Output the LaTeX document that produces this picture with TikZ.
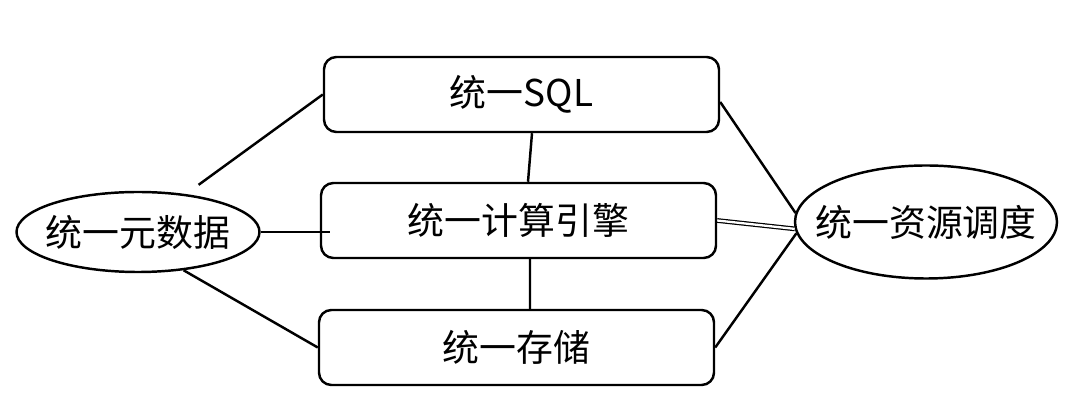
\documentclass[tikz,border=0pt]{standalone}
\usepackage{fontspec}
\setmainfont{Noto Sans CJK SC}
\usepackage{tikz}
\usetikzlibrary{positioning,calc,shapes.geometric}

\begin{document}
\begin{tikzpicture}[
  box/.style={draw,line width=1.4pt,rounded corners=7pt,minimum width=7.9cm,minimum height=1.5cm,font=\fontsize{21}{25}\selectfont},
  oval/.style={draw,ellipse,line width=1.4pt,inner sep=0pt,font=\fontsize{21}{25}\selectfont},
  link/.style={line width=1.4pt}]
 \useasboundingbox (0,0) rectangle (21.6,8.32);
 \node[box] (sql) at (10.43,6.43) {统一SQL};
 \node[box] (comp) at (10.37,3.91) {统一计算引擎};
 \node[box] (sto) at (10.33,1.37) {统一存储};
 \node[oval,minimum width=4.86cm,minimum height=1.6cm] (meta) at (2.76,3.68) {\makebox[2.4cm]{统一元数据}};
 \node[oval,minimum width=5.24cm,minimum height=2.26cm] (sched) at (18.52,3.88) {\makebox[2.4cm]{统一资源调度}};
 % left side
 \draw[link] ([shift={(0.15,0.2)}]meta.35) -- (sql.west);
 \draw[link] (meta.east) -- ([xshift=0.2cm]comp.west |- meta.east);
 \draw[link] (meta.-40) -- (sto.west);
 % middle
 \draw[link] ([xshift=0.21cm]sql.south) -- ([xshift=0.19cm]comp.north);
 \draw[link] ([xshift=0.23cm]comp.south) -- ([xshift=0.27cm]sto.north);
 % right side
 \draw[link] ([yshift=-0.15cm]sql.east) -- (sched.176);
 \draw[line width=0.7pt,double,double distance=1.3pt] (comp.east) -- (sched.183);
 \draw[link] (sto.east) -- (sched.185);
\end{tikzpicture}
\end{document}
